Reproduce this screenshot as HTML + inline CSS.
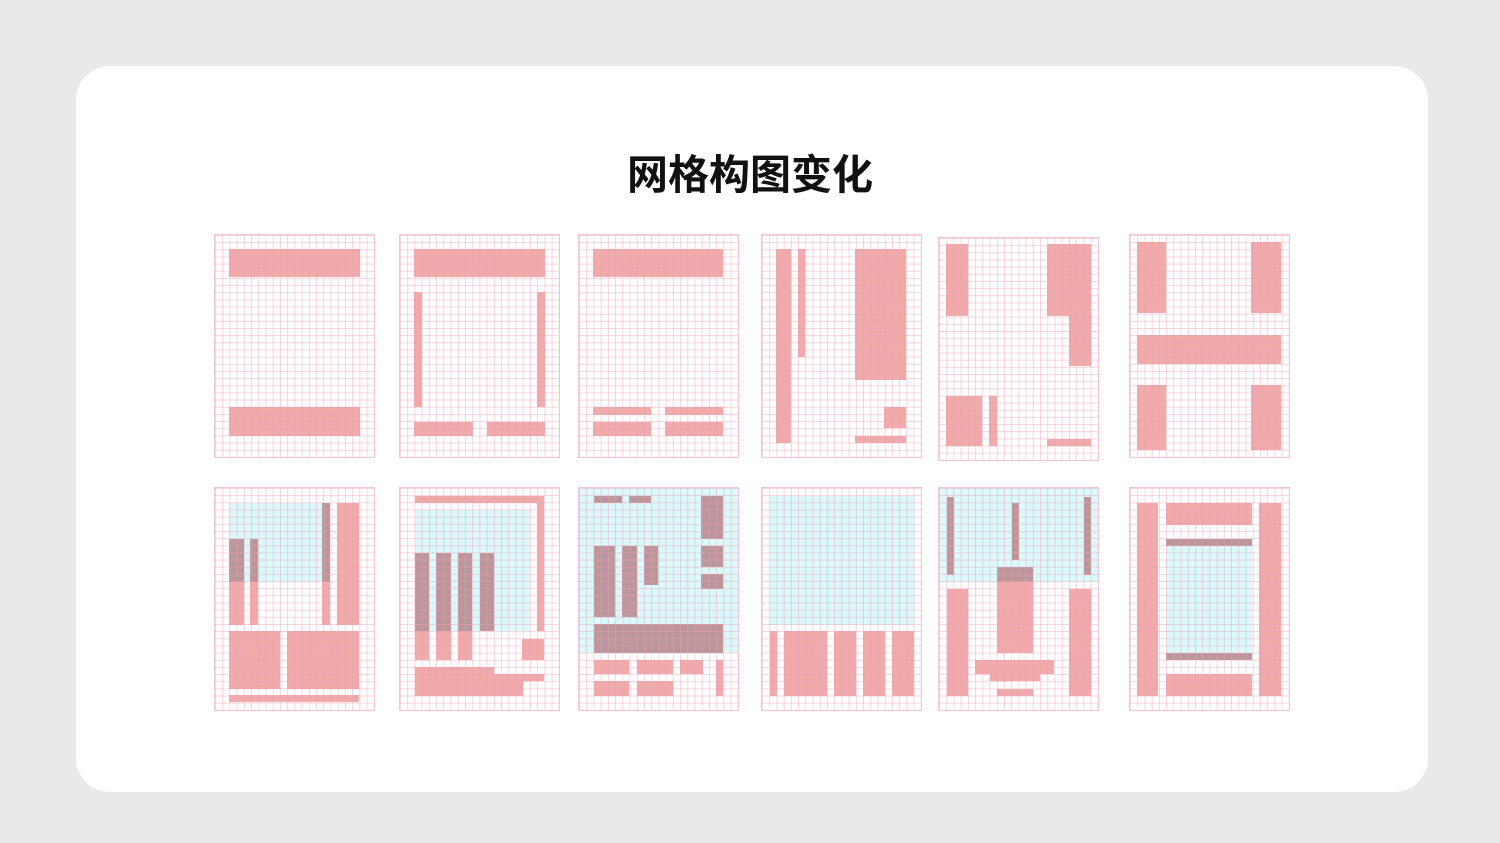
<!DOCTYPE html>
<html><head><meta charset="utf-8"><style>
body{margin:0;width:1500px;height:843px;background:#e9e9e9;position:relative;overflow:hidden}
.card{position:absolute;left:76px;top:66px;width:1352px;height:726px;background:#fff;border-radius:34px}
h1{position:absolute;left:0;width:1500px;top:141px;margin:0;text-align:center;font:bold 41px "Liberation Sans","Noto Sans CJK SC",sans-serif;color:#111}
.p{position:absolute;width:159px;height:222px;background:#fff;outline:1.5px solid #f2c6d0;overflow:hidden}
.p div{position:absolute}
.g{left:0;top:0;width:100%;height:100%;background-image:linear-gradient(to right,rgba(236,160,180,.45) 1px,transparent 1px),linear-gradient(to bottom,rgba(236,160,180,.45) 1px,transparent 1px);background-size:7.23px 7.16px}
</style></head><body>
<div class="card"></div>
<h1>网格构图变化</h1>
<div id="root"></div>
<script>
var P='#f0aaaa',C='#dbfafc',D='#bb979c';
var panels=[
[215,235,[[14,14,145,42,P],[14,172,145,201,P]]],
[400,235,[[14,14,145,42,P],[14,57,22,172,P],[137,57,145,172,P],[14,187,73,201,P],[87,187,145,201,P]]],
[579,235,[[14,14,144,42,P],[14,172,72,180,P],[86,172,144,180,P],[14,187,72,201,P],[86,187,144,201,P]]],
[762,235,[[14,14,29,208,P],[36,14,43,122,P],[93,14,144,145,P],[122,172,144,193,P],[93,201,144,208,P]]],
[939,238,[[7,6,29,78,P],[108,6,152,78,P],[130,78,152,128,P],[7,158,43,208,P],[50,158,58,208,P],[108,201,152,208,P]]],
[1130,235,[[7,7,36,78,P],[121,7,151,78,P],[7,100,151,129,P],[7,150,36,215,P],[121,150,151,215,P]]],
[215,488,[[14,15,115,94,C],[14,51,29,137,P],[35,51,43,137,P],[107,15,115,137,P],[14,51,29,94,D],[35,51,43,94,D],[107,15,115,94,D],[122,15,144,137,P],[14,143,65,201,P],[72,143,144,201,P],[14,207,144,214,P]]],
[400,488,[[15,8,144,15,P],[137,8,144,143,P],[15,22,130,143,C],[15,65,29,172,P],[36,65,51,172,P],[58,65,72,172,P],[80,65,94,143,P],[15,65,29,143,D],[36,65,51,143,D],[58,65,72,143,D],[80,65,94,143,D],[122,151,144,172,P],[15,179,94,186,P],[15,186,144,193,P],[15,193,123,208,P]]],
[579,488,[[0,0,159,165,C],[15,8,43,15,D],[50,8,72,15,D],[122,8,144,51,D],[122,58,144,79,D],[122,86,144,101,D],[15,58,36,129,D],[43,58,58,129,D],[65,58,79,97,D],[15,136,144,165,D],[15,172,50,186,P],[58,172,94,186,P],[101,172,124,186,P],[15,193,50,208,P],[58,193,94,208,P],[137,172,144,208,P]]],
[762,488,[[8,8,152,137,C],[8,143,15,208,P],[22,143,65,208,P],[72,143,94,208,P],[101,143,123,208,P],[130,143,152,208,P]]],
[939,488,[[0,0,159,94,C],[8,9,15,87,D],[73,15,80,72,D],[145,9,152,87,D],[58,94,94,165,P],[58,79,94,94,D],[8,101,29,208,P],[130,101,152,208,P],[36,172,115,186,P],[51,186,101,193,P],[58,201,94,208,P]]],
[1130,488,[[7,15,28,208,P],[129,15,151,208,P],[36,15,122,37,P],[36,186,122,208,P],[36,58,122,165,C],[36,51,122,58,D],[36,165,122,172,D]]]
];
var r=document.getElementById('root'),h='';
panels.forEach(function(p){h+='<div class="p" style="left:'+p[0]+'px;top:'+p[1]+'px">';
p[2].forEach(function(b){h+='<div style="left:'+b[0]+'px;top:'+b[1]+'px;width:'+(b[2]-b[0])+'px;height:'+(b[3]-b[1])+'px;background:'+b[4]+'"></div>'});
h+='<div class="g"></div></div>'});
r.innerHTML=h;
</script>
</body></html>
